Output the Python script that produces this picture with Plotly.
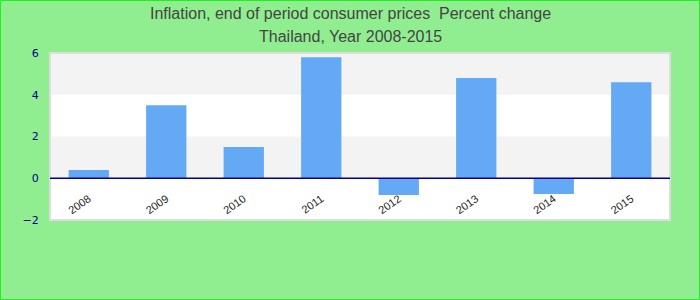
import plotly.graph_objects as go

years = ["2008", "2009", "2010", "2011", "2012", "2013", "2014", "2015"]
values = [0.4, 3.5, 1.5, 5.8, -0.8, 4.8, -0.75, 4.6]
y_ticks = [-2, 0, 2, 4, 6]
bands = [(0, 2), (4, 6)]
title_lines = ["Inflation, end of period consumer prices  Percent change",
               "Thailand, Year 2008-2015"]

W, H = 700, 300
L, R, T, B = 50, 30, 53, 80
pw, ph = W - L - R, H - T - B

fig = go.Figure()
fig.add_trace(go.Bar(x=years, y=values, marker=dict(color="#63a9f4", line=dict(width=0)),
                     width=0.52, hoverinfo="x+y"))

shapes = []
for lo, hi in bands:
    shapes.append(dict(type="rect", xref="x domain", yref="y", x0=0, x1=1, y0=lo, y1=hi,
                       fillcolor="#f3f3f3", line=dict(width=0), layer="below"))
shapes.append(dict(type="rect", xref="x domain", yref="y domain", x0=0, x1=1, y0=0, y1=1,
                   line=dict(color="#dddddd", width=2), fillcolor="rgba(0,0,0,0)", layer="above"))
shapes.append(dict(type="line", xref="x domain", yref="y", x0=0, x1=1, y0=0, y1=0,
                   line=dict(color="#00008b", width=1.5), layer="above"))
shapes.append(dict(type="rect", xref="paper", yref="paper",
                   x0=(-L + 0.5) / pw, x1=1 + (R - 0.5) / pw,
                   y0=-(B - 0.5) / ph, y1=1 + (T - 0.5) / ph,
                   line=dict(color="#22ee22", width=1), fillcolor="rgba(0,0,0,0)"))

annotations = []
for line, ypix in zip(title_lines, [13, 36]):
    annotations.append(dict(text=line, xref="paper", yref="paper",
                            x=(W / 2 - L) / pw, y=(H - B - ypix) / ph,
                            xanchor="center", yanchor="middle", showarrow=False,
                            font=dict(family="Liberation Sans, Arial", size=16, color="#444444")))

fig.update_layout(
    width=W, height=H,
    margin=dict(l=L, r=R, t=T, b=B),
    paper_bgcolor="#90ee90",
    plot_bgcolor="#ffffff",
    showlegend=False,
    bargap=0.48,
    xaxis=dict(anchor="free", position=0.25, showgrid=False, showline=False, zeroline=False,
               tickangle=-35, ticks="outside", ticklen=9, tickcolor="rgba(0,0,0,0)",
               tickfont=dict(family="Liberation Sans, Arial", size=11, color="#222222"),
               fixedrange=True),
    yaxis=dict(range=[-2, 6], tickvals=y_ticks, showgrid=False, zeroline=False, showline=False,
               ticks="outside", ticklen=8, tickcolor="rgba(0,0,0,0)",
               tickfont=dict(family="DejaVu Sans, Verdana", size=11, color="#00008b"),
               fixedrange=True),
    shapes=shapes,
    annotations=annotations,
)

fig.write_html("out.html")
